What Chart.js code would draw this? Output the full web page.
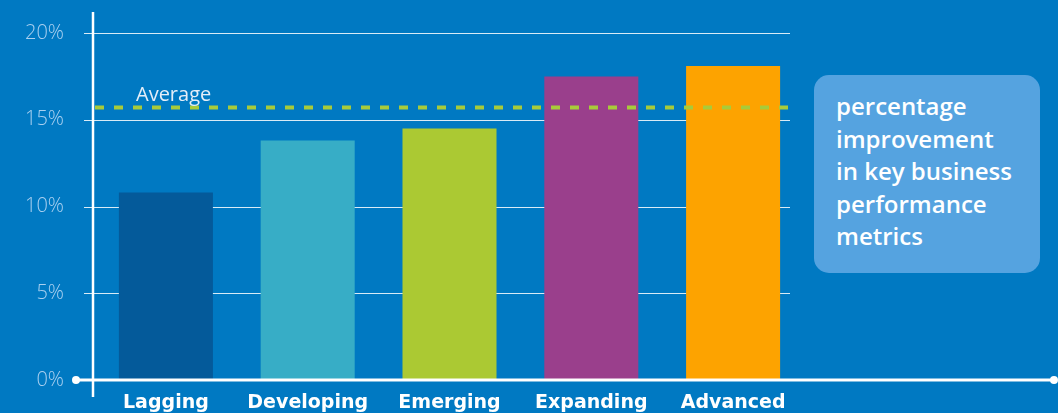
<!DOCTYPE html>
<html>
<head>
<meta charset="utf-8">
<script src="https://cdn.jsdelivr.net/npm/chart.js@4"></script>
<style>
  html, body { margin: 0; padding: 0; background: #0079c2; }
  #wrap { position: relative; width: 1058px; height: 413px; overflow: hidden; }
  #note {
    position: absolute; left: 814px; top: 75px; width: 226px; height: 198px;
    box-sizing: border-box; padding: 15px 0 0 22px;
    background: #55a3e0; border-radius: 15px;
    color: #fff; font-family: "Open Sans", sans-serif; font-weight: 600;
    font-size: 24px; line-height: 32.5px; white-space: nowrap;
  }
</style>
</head>
<body>
<div id="wrap">
  <canvas id="chart" width="1058" height="413"></canvas>
  <div id="note">percentage<br>improvement<br>in key business<br>performance<br>metrics</div>
</div>
<script>
// chart data
const categories = ["Lagging", "Developing", "Emerging", "Expanding", "Advanced"];
const improvement = [10.8, 13.8, 14.5, 17.5, 18.1];
const barColors = ["#045a9a", "#37adc6", "#abc933", "#9a3f8c", "#fda300"];
const averageValue = 15.7;
const yTicks = [0, 5, 10, 15, 20];

// draws gridlines, axis lines and the average marker
const decorations = {
  id: "decorations",
  beforeDatasetsDraw(chart) {
    const { ctx, chartArea, scales: { y } } = chart;
    ctx.save();
    ctx.strokeStyle = "rgba(255,255,255,0.85)";
    ctx.lineWidth = 1;
    yTicks.forEach(v => {
      if (v === 0) return;
      const py = Math.round(y.getPixelForValue(v)) + 0.5;
      ctx.beginPath();
      ctx.moveTo(chartArea.left - 11, py);
      ctx.lineTo(chartArea.right - 14, py);
      ctx.stroke();
    });
    ctx.restore();
  },
  afterDatasetsDraw(chart) {
    const { ctx, chartArea, scales: { y } } = chart;
    const base = y.getPixelForValue(0);
    ctx.save();
    // y axis
    ctx.strokeStyle = "#ffffff";
    ctx.lineWidth = 2.5;
    ctx.beginPath();
    ctx.moveTo(chartArea.left - 2, 12);
    ctx.lineTo(chartArea.left - 2, base + 17);
    ctx.stroke();
    // x axis with end dots
    ctx.lineWidth = 3;
    ctx.beginPath();
    ctx.moveTo(76, base);
    ctx.lineTo(1054, base);
    ctx.stroke();
    ctx.fillStyle = "#ffffff";
    [76, 1054].forEach(x => {
      ctx.beginPath();
      ctx.arc(x, base, 4, 0, Math.PI * 2);
      ctx.fill();
    });
    // average line
    const ay = y.getPixelForValue(averageValue);
    ctx.strokeStyle = "#a8cb3a";
    ctx.lineWidth = 4;
    ctx.setLineDash([9, 10]);
    ctx.beginPath();
    ctx.moveTo(chartArea.left, ay);
    ctx.lineTo(chartArea.right - 10, ay);
    ctx.stroke();
    ctx.setLineDash([]);
    ctx.fillStyle = "#e4eef8";
    ctx.font = "20px 'Open Sans', sans-serif";
    ctx.textAlign = "left";
    ctx.textBaseline = "alphabetic";
    ctx.fillText("Average", chartArea.left + 41, ay - 7);
    ctx.restore();
  }
};

new Chart(document.getElementById("chart"), {
  type: "bar",
  data: {
    labels: categories,
    datasets: [{
      data: improvement,
      backgroundColor: barColors,
      borderWidth: 0,
      categoryPercentage: 1,
      barPercentage: 0.663
    }]
  },
  options: {
    responsive: false,
    animation: false,
    layout: { padding: { top: 33, right: 254, left: 0, bottom: 0 } },
    plugins: { legend: { display: false }, tooltip: { enabled: false } },
    scales: {
      x: {
        grid: { display: false, drawTicks: false },
        border: { display: false },
        ticks: {
          color: "#ffffff",
          padding: 12,
          font: { family: "'DejaVu Sans', sans-serif", size: 19, weight: "bold" }
        },
        afterFit(scale) { scale.height = 33; }
      },
      y: {
        min: 0,
        max: 20,
        afterBuildTicks(scale) { scale.ticks = yTicks.map(v => ({ value: v })); },
        grid: { display: false },
        border: { display: false },
        ticks: {
          color: "#a9d0f0",
          padding: 23,
          font: { family: "'Open Sans', sans-serif", size: 20, weight: "300", lineHeight: 0.1 },
          callback: v => v + "%"
        },
        afterFit(scale) { scale.width = 95; }
      }
    }
  },
  plugins: [decorations]
});
</script>
</body>
</html>
